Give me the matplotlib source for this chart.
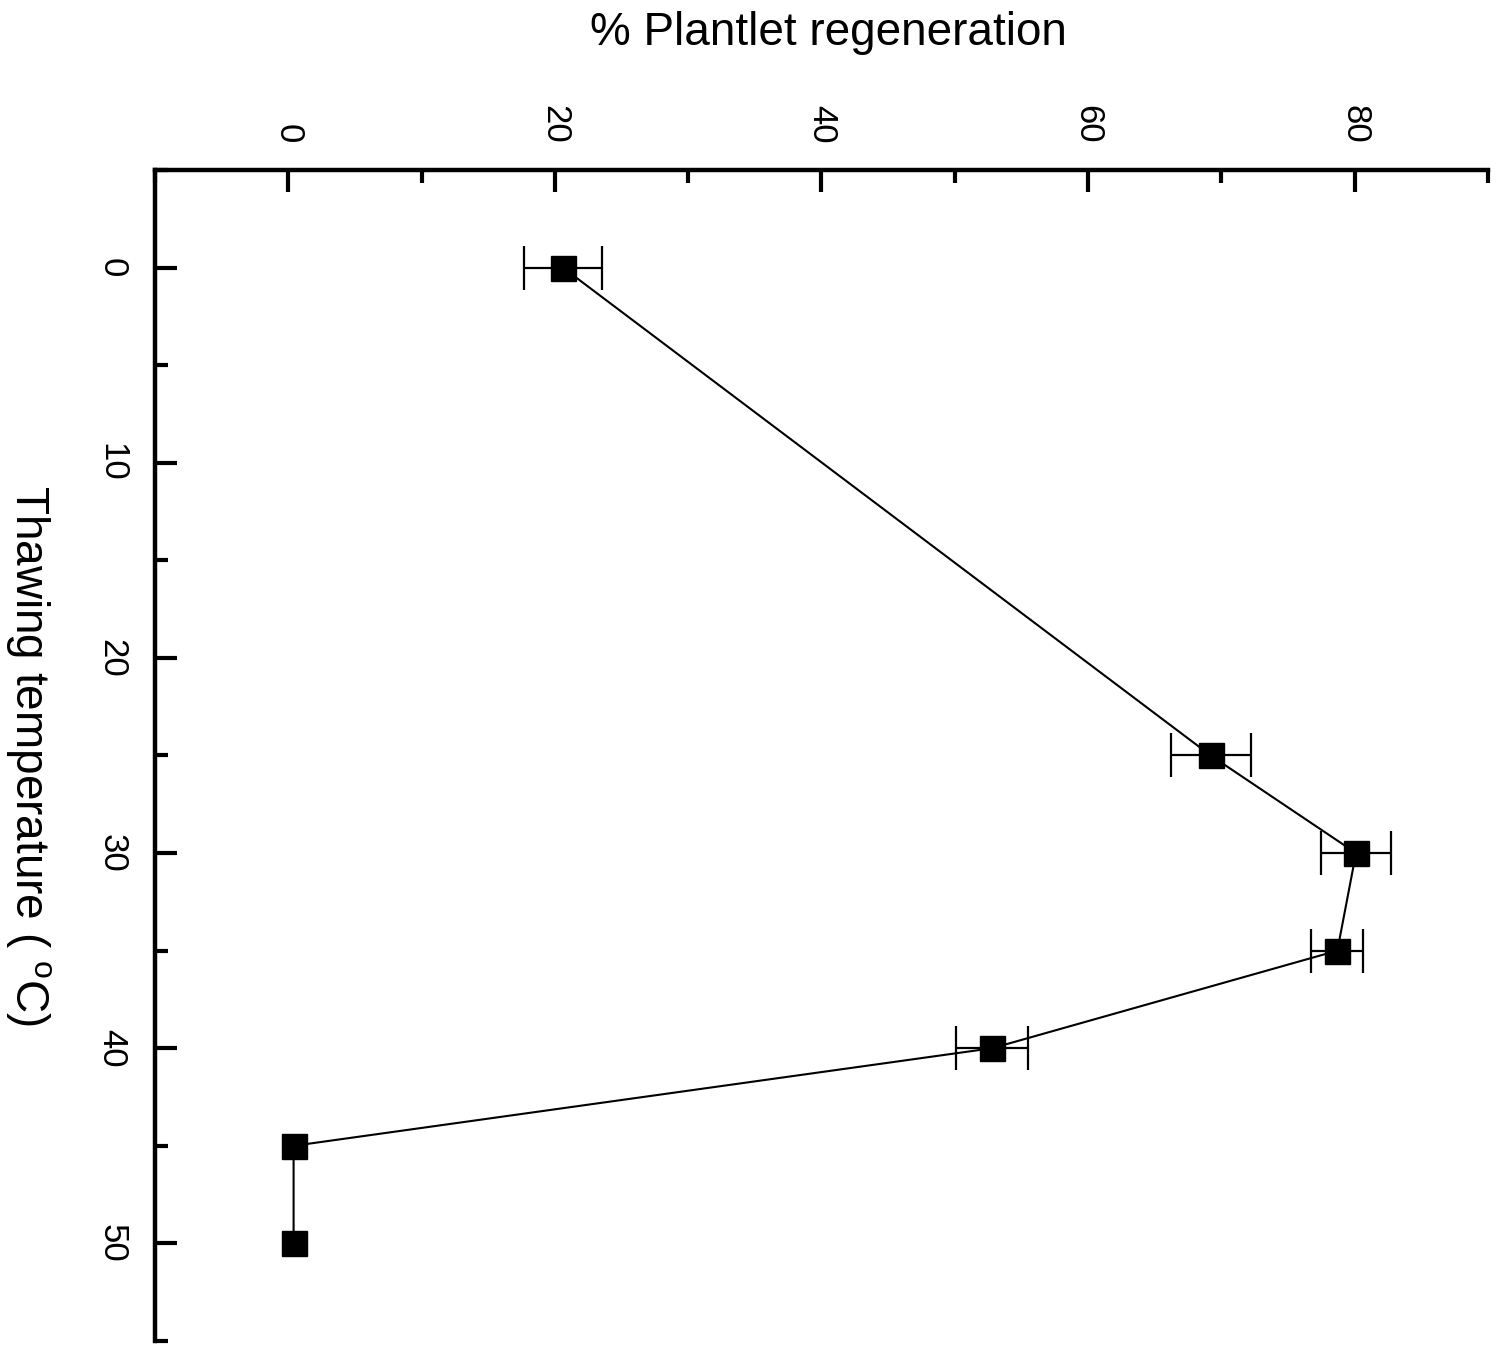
import matplotlib
matplotlib.use("Agg")
import matplotlib.pyplot as plt
import numpy as np
from matplotlib.ticker import MultipleLocator

plt.rcParams['font.family'] = ['Liberation Sans', 'DejaVu Sans']
plt.rcParams['mathtext.fontset'] = 'custom'
plt.rcParams['mathtext.rm'] = 'Liberation Sans'

# Thawing temperature (°C) and plantlet regeneration (%) with SE
temperature = [0, 25, 30, 35, 40, 45, 50]
regeneration = [20.6, 69.2, 80.1, 78.7, 52.8, 0.4, 0.4]
regen_err = [2.9, 3.0, 2.6, 1.95, 2.7, 0.0, 0.0]

temp_ticks = [0, 10, 20, 30, 40, 50]
regen_ticks = [0, 20, 40, 60, 80]

fig = plt.figure(figsize=(15.03, 13.48), dpi=100)
ax = fig.add_axes([0.1031, 0.0052, 0.8869, 0.8687])

ax.plot(regeneration, temperature, color='black', lw=1.5, zorder=2)
ax.plot(regeneration, temperature, 's', color='black', ms=18, zorder=3)

t = np.array(temperature, dtype=float)
r = np.array(regeneration)
e = np.array(regen_err)
has_err = e > 0
ax.errorbar(r[has_err], t[has_err], xerr=e[has_err], fmt='none',
            ecolor='black', elinewidth=1.6, capsize=16, capthick=1.6, zorder=2)

ax.set_xlim(-10, 90)
ax.set_ylim(55, -5)

ax.xaxis.tick_top()
ax.xaxis.set_label_position('top')
ax.set_xticks(regen_ticks)
ax.set_xticklabels([str(v) for v in regen_ticks], rotation=-90, fontsize=25)
ax.xaxis.set_minor_locator(MultipleLocator(10))
ax.set_yticks(temp_ticks)
ax.set_yticklabels([str(v) for v in temp_ticks], rotation=-90, fontsize=25,
                   va='center')
ax.yaxis.set_minor_locator(MultipleLocator(5))

ax.tick_params(which='major', direction='in', length=16, width=3, pad=19)
ax.tick_params(which='minor', direction='in', length=9, width=3)
ax.tick_params(axis='x', which='both', top=True, bottom=False)
ax.tick_params(axis='y', which='both', left=True, right=False)

for side in ('right', 'bottom'):
    ax.spines[side].set_visible(False)
for side in ('top', 'left'):
    ax.spines[side].set_linewidth(3.2)

ax.set_xlabel('% Plantlet regeneration', fontsize=33, va='baseline')
ax.xaxis.set_label_coords(0.505, 1.1067)
ax.set_ylabel(r'Thawing temperature ( $^{\mathregular{o}}$C)', fontsize=33,
              rotation=-90, rotation_mode='anchor', ha='center', va='baseline')
ax.yaxis.set_label_coords(-0.1043, 0.5)

fig.savefig('out.png', dpi=100)
